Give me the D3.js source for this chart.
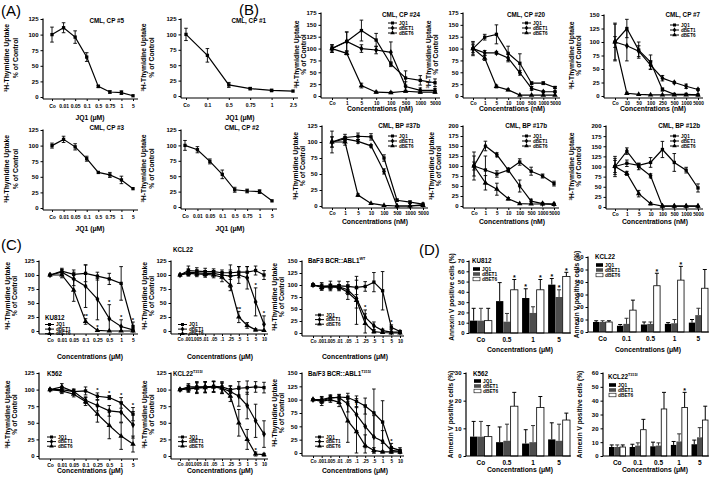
<!DOCTYPE html>
<html><head><meta charset="utf-8">
<script src="https://cdn.jsdelivr.net/npm/d3@7/dist/d3.min.js"></script>
<style>body{margin:0;background:#fff}svg{display:block}text{font-family:"Liberation Sans",Arial,Helvetica,sans-serif;fill:#000}
.narrow text{font-family:"Liberation Sans Narrow","Arial Narrow","Liberation Sans",Arial,sans-serif}</style>
</head><body><script>
// ---------------- DATA ----------------
const seriesNames = ["JQ1","dBET1","dBET6"];
// Panel A
const catsA = ["Co","0.01","0.05","0.1","0.5","0.75","1","5"];
const catsA2 = ["Co","0.1","0.5","0.75","1","2.5"];
const valsCP5 = [100,111,96,64,17,8,7,2];
const errCP5  = [12,8,10,7,2,2,3,1];
const valsCP1 = [100,66,18,12,9,8];
const errCP1  = [10,11,4,2,2,1];
const valsCP3 = [100,110,98,79,57,53,45,31];
const errCP3  = [4,5,5,4,1,4,6,1];
const valsCP2 = [100,93,74,53,28,26,25,10];
const errCP2  = [8,5,4,7,4,3,3,1];
// Panel B
const catsB = ["Co","1","5","10","100","500","1000","5000"];
const catsB7 = ["Co","10","50","100","250","500","1000","5000"];
const cp24_JQ1 = [100,115,138,118,67,38,33,28],  cp24_JQ1e = [8,20,22,14,5,15,10,8];
const cp24_dBET1 = [100,115,100,97,92,20,12,12], cp24_dBET1e = [8,20,8,8,22,10,5,4];
const cp24_dBET6 = [100,90,22,8,7,10,8,8],      cp24_dBET6e = [5,3,5,2,2,2,2,2];
const cp20_JQ1 = [100,124,130,90,69,27,27,18],  cp20_JQ1e = [15,6,20,15,20,3,3,2];
const cp20_dBET1 = [100,91,91,80,49,16,9,9],    cp20_dBET1e = [12,5,3,8,5,4,2,2];
const cp20_dBET6 = [100,80,20,13,2,2,2,2],      cp20_dBET6e = [8,5,3,2,1,1,1,1];
const cp7_JQ1 = [100,125,85,63,12,3,3,2],       cp7_JQ1e = [35,17,15,13,3,1,1,1];
const cp7_dBET1 = [100,93,83,57,33,25,18,12],   cp7_dBET1e = [10,28,10,8,5,2,4,2];
const cp7_dBET6 = [100,5,3,2,2,2,2,2],          cp7_dBET6e = [33,2,1,1,1,1,1,1];
const bp37_JQ1 = [100,107,109,108,75,9,6,3],    bp37_JQ1e = [8,5,5,5,5,2,2,1];
const bp37_dBET1 = [100,105,101,94,54,0,0,2],   bp37_dBET1e = [8,3,3,2,4,1,1,1];
const bp37_dBET6 = [100,100,17,4,1,0,0,1],      bp37_dBET6e = [17,5,2,1,1,1,1,1];
const bp17_JQ1 = [100,90,80,90,110,87,75,56],   bp17_JQ1e = [10,35,8,5,8,10,5,6];
const bp17_dBET1 = [100,150,128,90,50,12,6,5],  bp17_dBET1e = [35,12,5,4,15,5,2,2];
const bp17_dBET6 = [100,58,42,18,6,5,5,4],      bp17_dBET6e = [25,18,15,3,1,1,1,1];
const bp12_JQ1 = [100,108,103,110,142,110,91,47], bp12_JQ1e = [20,8,5,12,20,22,7,10];
const bp12_dBET1 = [100,138,100,77,2,2,2,2],    bp12_dBET1e = [25,8,8,5,1,1,1,1];
const bp12_dBET6 = [100,83,33,8,2,2,2,2],       bp12_dBET6e = [15,5,8,3,1,1,1,1];
// Panel C
const catsC1 = ["Co","0.01","0.05","0.1","0.25","0.5","1","5"];
const catsC2 = ["Co",".001",".005",".01",".05",".1",".25",".5","1","5","10"];
const ku_JQ1 = [100,107,101,103,98,93,85,8],    ku_JQ1e = [1,5,8,15,7,10,30,8];
const ku_dBET1 = [100,105,93,80,57,22,8,2],     ku_dBET1e = [1,5,12,38,37,25,12,2];
const ku_dBET6 = [100,100,73,17,1,0,0,0],       ku_dBET6e = [1,5,20,5,1,1,1,1];
const kcl_JQ1 = [100,108,107,106,106,104,104,105,105,108,100], kcl_JQ1e = [1,8,6,6,5,5,5,10,10,8,8];
const kcl_dBET1 = [100,105,104,103,103,100,98,100,95,52,12],  kcl_dBET1e = [1,6,5,5,5,5,20,15,20,25,15];
const kcl_dBET6 = [100,103,102,101,100,96,82,25,10,2,1],      kcl_dBET6e = [1,5,5,5,5,8,10,10,5,2,1];
const wt_JQ1 = [100,97,98,98,97,95,97,106,88,12,3],    wt_JQ1e = [2,8,10,10,10,15,10,20,40,5,2];
const wt_dBET1 = [100,97,97,96,90,72,33,15,5,2,2],     wt_dBET1e = [2,5,5,5,10,20,15,8,3,1,1];
const wt_dBET6 = [100,95,96,95,85,68,20,3,1,0,0],      wt_dBET6e = [2,5,5,5,15,50,20,3,1,1,1];
const k562_JQ1 = [100,100,97,98,90,88,80,63],   k562_JQ1e = [1,4,3,6,5,3,8,10];
const k562_dBET1 = [100,104,97,84,76,68,66,47], k562_dBET1e = [1,5,4,5,8,8,15,20];
const k562_dBET6 = [100,98,93,82,63,46,30,18],  k562_dBET6e = [1,4,4,6,12,20,20,12];
const t315_JQ1 = [100,104,104,104,105,104,100,102,103,104,103], t315_JQ1e = [1,5,8,8,8,8,6,10,10,8,8];
const t315_dBET1 = [100,102,103,104,104,102,97,90,76,53,33],   t315_dBET1e = [1,5,8,8,8,8,8,15,20,25,20];
const t315_dBET6 = [100,101,102,103,104,102,90,50,25,3,2],     t315_dBET6e = [1,5,8,8,8,8,8,20,15,3,2];
const bt_JQ1 = [100,98,103,105,104,97,88,75,58,10,5],   bt_JQ1e = [1,5,5,5,8,10,15,45,40,8,5];
const bt_dBET1 = [100,100,104,104,92,72,50,30,22,5,3],  bt_dBET1e = [1,6,5,5,15,30,40,40,20,5,3];
const bt_dBET6 = [100,97,100,95,60,40,14,5,2,2,2],      bt_dBET6e = [1,8,5,8,40,45,20,5,2,2,2];
// Panel D
const catsD1 = ["Co","0.5","1","5"];
const catsD2 = ["Co","0.1","0.5","1","5"];
const dKU_JQ1 = [12,31,34,47],   dKU_JQ1e = [12,18,9,6];
const dKU_dBET1 = [12,11,19.5,35], dKU_dBET1e = [12,8,6,7];
const dKU_dBET6 = [12,42,42,55], dKU_dBET6e = [12,10,10,4];
const dKCL_JQ1 = [8,5,6,6.5,7.5],     dKCL_JQ1e = [1,1,2,1,2.5];
const dKCL_dBET1 = [8,6.5,6.5,7,13.5], dKCL_dBET1e = [1,4.5,1.5,3,5.5];
const dKCL_dBET6 = [8,17.5,37,41.5,35], dKCL_dBET6e = [1,8,10,11,15];
const dK562_JQ1 = [7,5,4.5,6],     dK562_JQ1e = [5.5,5.5,5,6];
const dK562_dBET1 = [7,5.5,5,5.5], dK562_dBET1e = [5.5,6,6,6];
const dK562_dBET6 = [7,18,17.5,13], dK562_dBET6e = [4,5,4,2.5];
const dT315_JQ1 = [6.5,6.5,7,8,8.5],     dT315_JQ1e = [1.5,2,3,2.5,3];
const dT315_dBET1 = [6.5,7.5,7.5,10.5,13.5], dT315_dBET1e = [1.5,2,2,5.5,7];
const dT315_dBET6 = [6.5,19,34,35,26],   dT315_dBET6e = [1.5,7.5,12,11,10];

// ---------------- DRAWING ----------------
const W = 709, H = 478;
const svg = d3.select("body").append("svg").attr("width", W).attr("height", H);
const SYM = {JQ1: d3.symbolSquare, dBET1: d3.symbolDiamond, dBET6: d3.symbolTriangle};
const SYMSIZE = {JQ1: 11, dBET1: 13, dBET6: 13};

function T(g, x, y, s, fs, anchor, fw) {
  return g.append("text").attr("x", x).attr("y", y).attr("font-size", fs)
    .attr("font-weight", fw || "bold").attr("text-anchor", anchor || "start").text(s);
}
function titleSup(g, x, y, base, sup, fs, anchor) {
  const t = g.append("text").attr("x", x).attr("y", y).attr("font-size", fs)
    .attr("font-weight", "bold").attr("text-anchor", anchor || "start");
  t.append("tspan").text(base);
  if (sup) t.append("tspan").attr("font-size", fs * 0.6).attr("dy", -fs * 0.4).text(sup);
  return t;
}
function thyLabel(c1, c2, yc, fs) {
  const t = svg.append("text").attr("transform", `translate(${c1 + fs * 0.36},${yc}) rotate(-90)`)
    .attr("text-anchor", "middle").attr("font-size", fs).attr("font-weight", "bold");
  t.append("tspan").attr("font-size", fs * 0.62).attr("dy", -fs * 0.35).text("3");
  t.append("tspan").attr("dy", fs * 0.35).text("H-Thymidine Uptake");
  svg.append("text").attr("transform", `translate(${c2 + fs * 0.36},${yc}) rotate(-90)`)
    .attr("text-anchor", "middle").attr("font-size", fs).attr("font-weight", "bold").text("% of Control");
}
function annexLabel(c, yc, fs) {
  svg.append("text").attr("transform", `translate(${c + fs * 0.36},${yc}) rotate(-90)`)
    .attr("text-anchor", "middle").attr("font-size", fs).attr("font-weight", "bold")
    .text("Annexin V positive cells (%)");
}

function linePlot(o) {
  const g = svg.append("g");
  const x = d3.scalePoint().domain(o.cats).range([o.px0, o.px1]);
  const y = d3.scaleLinear().domain([0, o.ymax]).range([o.yZero, o.yTop]);
  const xAxisY = o.yZero + (o.xoff == null ? 2 : o.xoff);
  const ya = g.append("g").attr("transform", `translate(${o.ax},0)`)
    .call(d3.axisLeft(y).tickValues(d3.range(0, o.ymax + 1e-6, o.ystep)).tickSize(2.5).tickSizeOuter(0).tickPadding(2));
  ya.select(".domain").remove();
  ya.attr("font-size", o.yfs || 6).attr("font-family", null).attr("font-weight", "bold");
  ya.selectAll("line").attr("stroke-width", 1);
  g.append("line").attr("x1", o.ax).attr("x2", o.ax).attr("y1", o.yTop - 0.5).attr("y2", xAxisY)
    .attr("stroke", "#000").attr("stroke-width", 1.2);
  const xa = g.append("g").attr("transform", `translate(0,${xAxisY})`)
    .call(d3.axisBottom(x).tickSize(2).tickSizeOuter(0).tickPadding(o.xpad == null ? 3 : o.xpad));
  xa.select(".domain").remove();
  xa.attr("font-size", o.xfs || 5.5).attr("font-family", null).attr("font-weight", "bold");
  if (o.narrow) xa.classed("narrow", true);
  g.append("line").attr("x1", o.ax).attr("x2", o.axR).attr("y1", xAxisY).attr("y2", xAxisY)
    .attr("stroke", "#000").attr("stroke-width", 1.2);
  const line = d3.line();
  o.series.forEach(s => {
    const pts = s.v.map((v, i) => [x(o.cats[i]), y(v)]);
    g.append("path").attr("d", line(pts)).attr("fill", "none").attr("stroke", "#000").attr("stroke-width", 1.2);
    s.e.forEach((e, i) => {
      if (!e || e < 1.5) return;
      const cx = x(o.cats[i]), y1 = y(s.v[i] + e), y2 = y(Math.max(0, s.v[i] - e));
      g.append("line").attr("x1", cx).attr("x2", cx).attr("y1", y1).attr("y2", y2).attr("stroke", "#000").attr("stroke-width", 0.9);
      [y1, y2].forEach(yy => g.append("line").attr("x1", cx - 1.8).attr("x2", cx + 1.8).attr("y1", yy).attr("y2", yy)
        .attr("stroke", "#000").attr("stroke-width", 0.9));
    });
    g.selectAll(null).data(pts).join("path")
      .attr("transform", d => `translate(${d[0]},${d[1]})`)
      .attr("d", d3.symbol(SYM[s.name], SYMSIZE[s.name])()).attr("fill", "#000");
  });
  if (o.stars) o.stars.forEach(([si, ci, txt]) => {
    const s = o.series[si];
    T(g, x(o.cats[ci]), y(s.v[ci] + s.e[ci]) - 0.5, txt || "*", 6, "middle");
  });
  if (o.title) titleSup(g, o.tx, o.ty, o.title, o.tsup, o.tfs || 6.3, o.tanchor || "end");
  if (o.legend) {
    o.series.forEach((s, i) => {
      const ly = o.ly + i * (o.ldy || 5);
      g.append("line").attr("x1", o.lx).attr("x2", o.lx + 9).attr("y1", ly).attr("y2", ly).attr("stroke", "#000").attr("stroke-width", 1);
      g.append("path").attr("transform", `translate(${o.lx + 4.5},${ly})`).attr("d", d3.symbol(SYM[s.name], 9)()).attr("fill", "#000");
      T(g, o.lx + 11, ly + 1.7, s.name, o.lfs || 4.6);
    });
  }
  if (o.xlab) T(g, o.xlx, o.xly, o.xlab, o.xlfs || 6.8, "middle");
  if (o.ylab) thyLabel(o.ylab[0], o.ylab[1], (o.yTop + o.yZero) / 2, o.ylfs || 6.8);
}

function barPlot(o) {
  const g = svg.append("g");
  const x0 = d3.scaleBand().domain(o.cats).range([o.b0, o.b1]).paddingInner(o.pin || 0.16).paddingOuter(0);
  const x1 = d3.scaleBand().domain(seriesNames).range([0, x0.bandwidth()]);
  const y = d3.scaleLinear().domain([0, o.ymax]).range([o.yZero, o.yTop]);
  const ya = g.append("g").attr("transform", `translate(${o.ax},0)`)
    .call(d3.axisLeft(y).tickValues(d3.range(0, o.ymax + 1e-6, 10)).tickSize(2.5).tickSizeOuter(0).tickPadding(2));
  ya.select(".domain").remove();
  ya.attr("font-size", 6).attr("font-family", null).attr("font-weight", "bold");
  g.append("line").attr("x1", o.ax).attr("x2", o.ax).attr("y1", o.yTop - 0.5).attr("y2", o.yZero)
    .attr("stroke", "#000").attr("stroke-width", 1.2);
  const fills = {JQ1: "#000", dBET1: "#4d4d4d", dBET6: "#fff"};
  o.series.forEach(s => {
    s.v.forEach((v, i) => {
      const bx = x0(o.cats[i]) + x1(s.name), bw = x1.bandwidth();
      const top = y(v + s.e[i]), cx = bx + bw / 2;
      const ec = s.name === "dBET1" ? "#333" : "#000";
      g.append("line").attr("x1", cx).attr("x2", cx).attr("y1", y(v)).attr("y2", top).attr("stroke", ec).attr("stroke-width", 1);
      g.append("line").attr("x1", cx - 2).attr("x2", cx + 2).attr("y1", top).attr("y2", top).attr("stroke", ec).attr("stroke-width", 1);
      g.append("rect").attr("x", bx).attr("y", y(v)).attr("width", bw).attr("height", o.yZero - y(v))
        .attr("fill", fills[s.name]).attr("stroke", s.name === "dBET6" ? "#000" : "none").attr("stroke-width", 0.8);
    });
  });
  if (o.stars) o.stars.forEach(([si, ci]) => {
    const s = o.series[si];
    const cx = x0(o.cats[ci]) + x1(s.name) + x1.bandwidth() / 2;
    T(g, cx, y(s.v[ci] + s.e[ci]) + 0.5, "*", 7, "middle");
  });
  g.append("line").attr("x1", o.ax).attr("x2", o.b1 + 1).attr("y1", o.yZero).attr("y2", o.yZero)
    .attr("stroke", "#000").attr("stroke-width", 1.2);
  o.cats.forEach(c => T(g, x0(c) + x0.bandwidth() / 2, o.yZero + 8.5, c, 6.5, "middle"));
  titleSup(g, o.tx, o.ty, o.title, o.tsup, 6.3, "start");
  seriesNames.forEach((n, i) => {
    const ly = o.ly + i * 5;
    g.append("rect").attr("x", o.tx + 1).attr("y", ly - 1.8).attr("width", 7).attr("height", 3.6)
      .attr("fill", fills[n]).attr("stroke", n === "dBET6" ? "#000" : "none").attr("stroke-width", 0.6);
    T(g, o.tx + 10, ly + 1.8, n, 4.8);
  });
  T(g, o.xlx, o.xly, "Concentrations (\u03bcM)", 6.8, "middle");
  annexLabel(o.ylabX, (o.yTop + o.yZero) / 2, 6.6);
}

const S = (a, ae, b, be, c, ce) => [
  {name: "JQ1", v: a, e: ae}, {name: "dBET1", v: b, e: be}, {name: "dBET6", v: c, e: ce}];

// Panel labels
T(svg, 1, 16, "(A)", 15, "start", "normal");
T(svg, 239, 15, "(B)", 15, "start", "normal");
T(svg, 1, 250, "(C)", 15, "start", "normal");
T(svg, 419, 255, "(D)", 15, "start", "normal");

// ---- A ----
linePlot({cats: catsA, ax: 43, px0: 52, px1: 133, axR: 138, yTop: 19, yZero: 97, ymax: 125, ystep: 25,
  series: [{name: "JQ1", v: valsCP5, e: errCP5}], title: "CML, CP #5", tx: 124, ty: 23, xfs: 5, narrow: true,
  xlab: "JQ1 (\u03bcM)", xlx: 90, xly: 120, ylab: [7, 16]});
linePlot({cats: catsA2, ax: 181, px0: 186, px1: 293, axR: 298, yTop: 19, yZero: 96, ymax: 125, ystep: 25,
  series: [{name: "JQ1", v: valsCP1, e: errCP1}], title: "CML, CP #1", tx: 266, ty: 23, xfs: 5, narrow: true,
  xlab: "JQ1 (\u03bcM)", xlx: 240, xly: 120, ylab: [144, 152]});
linePlot({cats: catsA, ax: 43, px0: 52, px1: 133, axR: 138, yTop: 130, yZero: 208, ymax: 125, ystep: 25,
  series: [{name: "JQ1", v: valsCP3, e: errCP3}], title: "CML, CP #3", tx: 124, ty: 130, xfs: 5, narrow: true,
  xlab: "JQ1 (\u03bcM)", xlx: 90, xly: 231, ylab: [7, 16]});
linePlot({cats: catsA, ax: 181, px0: 185, px1: 272, axR: 277, yTop: 130, yZero: 207, ymax: 125, ystep: 25,
  series: [{name: "JQ1", v: valsCP2, e: errCP2}], title: "CML, CP #2", tx: 259, ty: 130, xfs: 5, narrow: true,
  xlab: "JQ1 (\u03bcM)", xlx: 230, xly: 231, ylab: [144, 152]});

// ---- B ----
const bCommon = {ystep: 25, xlab: "Concentrations (nM)", legend: true, ldy: 5, xfs: 4.8, xpad: 1.5, narrow: true};
linePlot(Object.assign({}, bCommon, {cats: catsB, ax: 321, px0: 332, px1: 435, axR: 440, yTop: 13, yZero: 96, ymax: 175,
  series: S(cp24_JQ1, cp24_JQ1e, cp24_dBET1, cp24_dBET1e, cp24_dBET6, cp24_dBET6e),
  title: "CML, CP #24", tx: 420, ty: 16.5, lx: 388, ly: 23, xlx: 380, xly: 111, ylab: [297, 304]}));
linePlot(Object.assign({}, bCommon, {cats: catsB, ax: 463, px0: 473, px1: 555, axR: 560, yTop: 13, yZero: 96, ymax: 175,
  series: S(cp20_JQ1, cp20_JQ1e, cp20_dBET1, cp20_dBET1e, cp20_dBET6, cp20_dBET6e),
  title: "CML, CP #20", tx: 545, ty: 16.5, lx: 522, ly: 23, xlx: 512, xly: 111, ylab: [429, 436]}));
linePlot(Object.assign({}, bCommon, {cats: catsB7, ax: 604, px0: 615, px1: 698, axR: 703, yTop: 15, yZero: 96, ymax: 150,
  series: S(cp7_JQ1, cp7_JQ1e, cp7_dBET1, cp7_dBET1e, cp7_dBET6, cp7_dBET6e),
  title: "CML, CP #7", tx: 700, ty: 16.5, lx: 670, ly: 25, xlx: 653, xly: 111, ylab: [572, 579]}));
linePlot(Object.assign({}, bCommon, {cats: catsB, ax: 322, px0: 332, px1: 423, axR: 428, yTop: 126, yZero: 206, ymax: 125,
  series: S(bp37_JQ1, bp37_JQ1e, bp37_dBET1, bp37_dBET1e, bp37_dBET6, bp37_dBET6e),
  title: "CML, BP #37b", tx: 420, ty: 128, lx: 388, ly: 136, xlx: 375, xly: 224, ylab: [296, 303]}));
linePlot(Object.assign({}, bCommon, {cats: catsB, ax: 463, px0: 474, px1: 554, axR: 559, yTop: 126, yZero: 206, ymax: 200,
  series: S(bp17_JQ1, bp17_JQ1e, bp17_dBET1, bp17_dBET1e, bp17_dBET6, bp17_dBET6e),
  title: "CML, BP #17b", tx: 547, ty: 128, lx: 522, ly: 136, xlx: 512, xly: 224, ylab: [432, 439]}));
linePlot(Object.assign({}, bCommon, {cats: catsB, ax: 606, px0: 615, px1: 698, axR: 703, yTop: 126, yZero: 207, ymax: 200,
  series: S(bp12_JQ1, bp12_JQ1e, bp12_dBET1, bp12_dBET1e, bp12_dBET6, bp12_dBET6e),
  title: "CML, BP #12b", tx: 700, ty: 128, lx: 670, ly: 136, xlx: 655, xly: 224, ylab: [572, 579]}));

// ---- C ----
const cCommon = {ystep: 25, xlab: "Concentrations (\u03bcM)", legend: true, ldy: 4.6, tanchor: "start", xoff: 3, xfs: 5, xpad: 2, narrow: true};
linePlot(Object.assign({}, cCommon, {cats: catsC1, ax: 39, px0: 50, px1: 133, axR: 138, yTop: 261, yZero: 331, ymax: 125,
  series: S(ku_JQ1, ku_JQ1e, ku_dBET1, ku_dBET1e, ku_dBET6, ku_dBET6e),
  stars: [[0, 7], [1, 5], [1, 6], [2, 3, "**"], [2, 4]],
  title: "KU812", tx: 45, ty: 319.5, lx: 45, ly: 324.5, xlx: 90, xly: 359, ylab: [8, 15]}));
linePlot(Object.assign({}, cCommon, {cats: catsC2, ax: 171, px0: 180, px1: 264, axR: 268, yTop: 261, yZero: 331, ymax: 125,
  series: S(kcl_JQ1, kcl_JQ1e, kcl_dBET1, kcl_dBET1e, kcl_dBET6, kcl_dBET6e),
  stars: [[2, 6, "**"], [2, 7, "**"], [1, 9], [1, 10]],
  title: "KCL22", tx: 173, ty: 252, lx: 178, ly: 324.5, xlx: 220, xly: 359, ylab: [145, 152], xfs: 4.6}));
linePlot(Object.assign({}, cCommon, {cats: catsC2, ax: 302, px0: 313, px1: 400, axR: 404, yTop: 261, yZero: 333, ymax: 150,
  series: S(wt_JQ1, wt_JQ1e, wt_dBET1, wt_dBET1e, wt_dBET6, wt_dBET6e),
  stars: [[1, 6], [0, 9]],
  title: "BaF3 BCR::ABL1", tsup: "WT", tx: 308, ty: 263, lx: 315, ly: 315, xlx: 355, xly: 359, ylab: [275, 282], xfs: 4.6}));
linePlot(Object.assign({}, cCommon, {cats: catsC1, ax: 39, px0: 50, px1: 133, axR: 138, yTop: 373, yZero: 456, ymax: 125,
  series: S(k562_JQ1, k562_JQ1e, k562_dBET1, k562_dBET1e, k562_dBET6, k562_dBET6e),
  stars: [[0, 4], [0, 5], [0, 6], [0, 7]],
  title: "K562", tx: 47, ty: 376, lx: 47, ly: 437, xlx: 90, xly: 473, ylab: [8, 15]}));
linePlot(Object.assign({}, cCommon, {cats: catsC2, ax: 171, px0: 180, px1: 264, axR: 268, yTop: 373, yZero: 456, ymax: 125,
  series: S(t315_JQ1, t315_JQ1e, t315_dBET1, t315_dBET1e, t315_dBET6, t315_dBET6e),
  stars: [[1, 8], [2, 9]],
  title: "KCL22", tsup: "T315I", tx: 173, ty: 376, lx: 178, ly: 437, xlx: 220, xly: 473, ylab: [145, 152], xfs: 4.6}));
linePlot(Object.assign({}, cCommon, {cats: catsC2, ax: 302, px0: 313, px1: 400, axR: 404, yTop: 373, yZero: 453, ymax: 150,
  series: S(bt_JQ1, bt_JQ1e, bt_dBET1, bt_dBET1e, bt_dBET6, bt_dBET6e),
  stars: [[2, 5], [1, 7], [0, 9]],
  title: "Ba/F3 BCR::ABL1", tsup: "T315I", tx: 308, ty: 376, lx: 315, ly: 437, xlx: 355, xly: 473, ylab: [275, 282], xfs: 4.6}));

// ---- D ----
barPlot({cats: catsD1, ax: 469, b0: 470, b1: 570, yTop: 261, yZero: 333, ymax: 70,
  series: S(dKU_JQ1, dKU_JQ1e, dKU_dBET1, dKU_dBET1e, dKU_dBET6, dKU_dBET6e),
  stars: [[2, 1], [0, 2], [2, 2], [0, 3], [1, 3], [2, 3]],
  title: "KU812", tx: 472, ty: 263, ly: 269, xlx: 520, xly: 352, ylabX: 452});
barPlot({cats: catsD2, ax: 588, b0: 593, b1: 708, pin: 0.2, yTop: 257, yZero: 332, ymax: 60,
  series: S(dKCL_JQ1, dKCL_JQ1e, dKCL_dBET1, dKCL_dBET1e, dKCL_dBET6, dKCL_dBET6e),
  stars: [[2, 2], [2, 3]],
  title: "KCL22", tx: 595, ty: 259, ly: 265, xlx: 648, xly: 352, ylabX: 577});
barPlot({cats: catsD1, ax: 466, b0: 470, b1: 570, yTop: 373, yZero: 456, ymax: 30,
  series: S(dK562_JQ1, dK562_JQ1e, dK562_dBET1, dK562_dBET1e, dK562_dBET6, dK562_dBET6e),
  title: "K562", tx: 473, ty: 376, ly: 381, xlx: 520, xly: 472, ylabX: 451});
barPlot({cats: catsD2, ax: 603, b0: 609, b1: 708, pin: 0.2, yTop: 373, yZero: 456, ymax: 60,
  series: S(dT315_JQ1, dT315_JQ1e, dT315_dBET1, dT315_dBET1e, dT315_dBET6, dT315_dBET6e),
  stars: [[2, 3]],
  title: "KCL22", tsup: "T315I", tx: 608, ty: 379, ly: 385, xlx: 655, xly: 472, ylabX: 580});
</script></body></html>
